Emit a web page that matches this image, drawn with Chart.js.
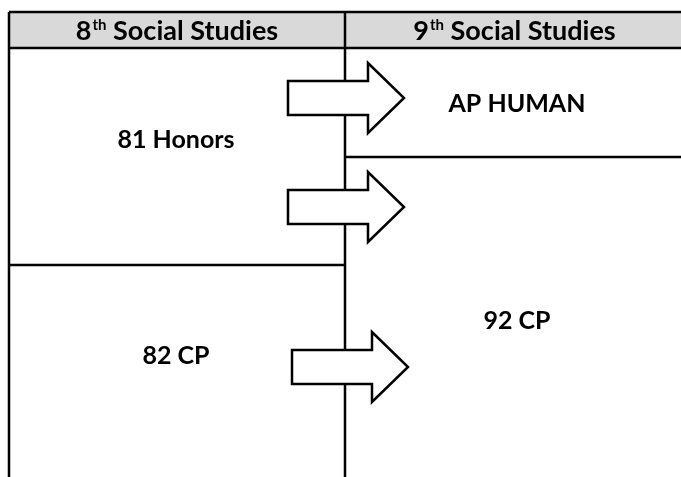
<!DOCTYPE html>
<html>
<head>
<meta charset="utf-8">
<script src="https://cdn.jsdelivr.net/npm/chart.js@4.4.1/dist/chart.umd.min.js"></script>
<style>
  html, body { margin: 0; padding: 0; background: #fff; }
  #wrap { width: 681px; height: 477px; position: relative; }
</style>
</head>
<body>
<div id="wrap"><canvas id="flowChart"></canvas></div>
<script>
// table content
const gradeNumbers = ['8', '9'];
const headerText = ' Social Studies';
const grade8Courses = ['81 Honors', '82 CP'];
const grade9Courses = ['AP HUMAN', '92 CP'];
// which 8th course leads to which 9th course
const pathFrom = ['81 Honors', '81 Honors', '82 CP'];
const pathTo = ['AP HUMAN', '92 CP', '92 CP'];

// geometry in page units (scales run 0..681 / 0..477)
const L = {
  left: 9, mid: 345, right: 684, top: 12, headBottom: 48, bottom: 480,
  leftSplit: 265, rightSplit: 157,
  labelY: { '81 Honors': 140, '82 CP': 356, 'AP HUMAN': 104, '92 CP': 321 },
  arrowY: [98, 207, 367],
  arrowX: [288, 288, 292]
};
const FONT = 'Lato, "Open Sans", sans-serif';

// table rules as line segments (null breaks the line)
const rules = [
  { x: L.left, y: L.top }, { x: L.right, y: L.top }, { x: null, y: null },
  { x: L.left, y: L.headBottom }, { x: L.right, y: L.headBottom }, { x: null, y: null },
  { x: L.left, y: L.top }, { x: L.left, y: L.bottom }, { x: null, y: null },
  { x: L.mid, y: L.top }, { x: L.mid, y: L.bottom }, { x: null, y: null },
  { x: L.left, y: L.leftSplit }, { x: L.mid, y: L.leftSplit }, { x: null, y: null },
  { x: L.mid, y: L.rightSplit }, { x: L.right, y: L.rightSplit }
];

const tablePlugin = {
  id: 'tablePlugin',
  beforeDatasetsDraw(chart) {
    const { ctx, scales: { x, y } } = chart;
    ctx.save();
    ctx.fillStyle = '#d9d9d9';
    ctx.fillRect(x.getPixelForValue(L.left), y.getPixelForValue(L.top),
      x.getPixelForValue(L.right) - x.getPixelForValue(L.left),
      y.getPixelForValue(L.headBottom) - y.getPixelForValue(L.top));
    ctx.restore();
  },
  afterDatasetsDraw(chart) {
    const { ctx, scales: { x, y } } = chart;
    ctx.save();
    // arrows
    pathFrom.forEach((from, i) => {
      const x0 = x.getPixelForValue(L.arrowX[i]);
      const hx = x.getPixelForValue(L.arrowX[i] + 80);
      const tx = x.getPixelForValue(L.arrowX[i] + 116);
      const cy = y.getPixelForValue(L.arrowY[i]);
      ctx.beginPath();
      ctx.moveTo(x0, cy - 17);
      ctx.lineTo(hx, cy - 17);
      ctx.lineTo(hx, cy - 35);
      ctx.lineTo(tx, cy);
      ctx.lineTo(hx, cy + 35);
      ctx.lineTo(hx, cy + 17);
      ctx.lineTo(x0, cy + 17);
      ctx.closePath();
      ctx.fillStyle = '#fff';
      ctx.fill();
      ctx.lineWidth = 2.5;
      ctx.lineJoin = 'miter';
      ctx.strokeStyle = '#000';
      ctx.stroke();
    });
    // headers with superscript
    ctx.fillStyle = '#000';
    ctx.textBaseline = 'alphabetic';
    const cols = [[L.left, L.mid], [L.mid, L.right]];
    gradeNumbers.forEach((g, i) => {
      const big = 'bold 27px ' + FONT, small = 'bold 15px ' + FONT;
      ctx.font = big;
      const w1 = ctx.measureText(g).width, w3 = ctx.measureText(headerText).width;
      ctx.font = small;
      const w2 = ctx.measureText('th').width + 1;
      const cx = (x.getPixelForValue(cols[i][0]) + x.getPixelForValue(cols[i][1])) / 2;
      let sx = cx - (w1 + w2 + w3) / 2;
      const base = y.getPixelForValue(40);
      ctx.textAlign = 'left';
      ctx.font = big; ctx.fillText(g, sx, base);
      ctx.font = small; ctx.fillText('th', sx + w1 + 1, base - 10);
      ctx.font = big; ctx.fillText(headerText, sx + w1 + w2, base);
    });
    // course labels
    ctx.font = 'bold 25px ' + FONT;
    ctx.textAlign = 'center';
    ctx.textBaseline = 'middle';
    grade8Courses.forEach(c => {
      ctx.fillText(c, x.getPixelForValue(176), y.getPixelForValue(L.labelY[c]));
    });
    grade9Courses.forEach(c => {
      ctx.fillText(c, x.getPixelForValue(517), y.getPixelForValue(L.labelY[c]));
    });
    ctx.restore();
  }
};

new Chart(document.getElementById('flowChart'), {
  type: 'scatter',
  data: {
    datasets: [{
      label: 'rules',
      data: rules,
      showLine: true,
      spanGaps: false,
      borderColor: '#000',
      borderWidth: 2.5,
      pointRadius: 0
    }]
  },
  options: {
    responsive: true,
    maintainAspectRatio: false,
    animation: false,
    layout: { padding: 0 },
    plugins: { legend: { display: false }, tooltip: { enabled: false } },
    scales: {
      x: { type: 'linear', min: 0, max: 681, display: false },
      y: { type: 'linear', min: 0, max: 477, reverse: true, display: false }
    }
  },
  plugins: [tablePlugin]
});
</script>
</body>
</html>
